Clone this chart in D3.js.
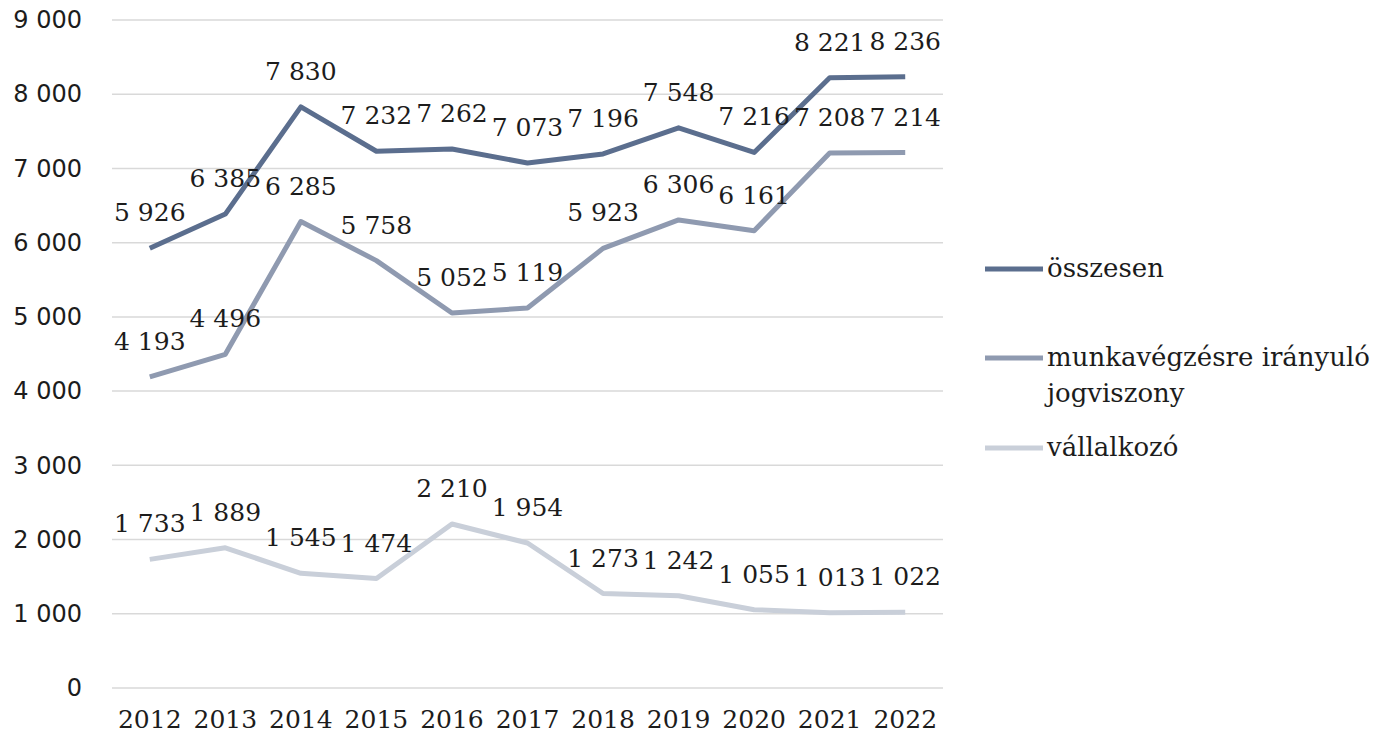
<!DOCTYPE html>
<html><head><meta charset="utf-8">
<script src="https://cdn.jsdelivr.net/npm/d3@7"></script>
<style>body{margin:0;background:#fff}svg{display:block}</style>
</head><body>
<svg id="c" width="1389" height="740"></svg>
<script>
const years = ["2012","2013","2014","2015","2016","2017","2018","2019","2020","2021","2022"];
const osszesen = [5926,6385,7830,7232,7262,7073,7196,7548,7216,8221,8236];
const munka = [4193,4496,6285,5758,5052,5119,5923,6306,6161,7208,7214];
const vallalkozo = [1733,1889,1545,1474,2210,1954,1273,1242,1055,1013,1022];
const yTicks = [0,1000,2000,3000,4000,5000,6000,7000,8000,9000];
const seriesNames = ["összesen", ["munkavégzésre irányuló","jogviszony"], "vállalkozó"];
const colors = ["#5b6e8e","#8f9ab0","#c9cfd9"];

const series = [osszesen, munka, vallalkozo];
const svg = d3.select("#c");
const x = d3.scaleBand().domain(years).range([112, 943]).padding(0);
const y = d3.scaleLinear().domain([0, 9000]).range([688, 20]);
const fmt = v => d3.format(",")(v).replace(/,/g, " ");
const txt = "#1c1c1c";

// gridlines
svg.append("g").selectAll("line").data(yTicks).join("line")
  .attr("x1", x.range()[0]).attr("x2", x.range()[1])
  .attr("y1", d => y(d)).attr("y2", d => y(d))
  .attr("stroke", "#d9d9d9").attr("stroke-width", 1.5);

// y axis labels
const yAxis = d3.axisLeft(y).tickValues(yTicks).tickFormat(fmt).tickSize(0).tickPadding(0);
svg.append("g").attr("transform", "translate(82,0)").call(yAxis)
  .call(g => g.select(".domain").remove())
  .call(g => g.selectAll("text").attr("font-family", "DejaVu Sans").attr("font-size", 24).attr("fill", txt));

// x axis labels
const xAxis = d3.axisBottom(x).tickSize(0).tickPadding(0);
svg.append("g").attr("transform", "translate(0,710)").call(xAxis)
  .call(g => g.select(".domain").remove())
  .call(g => g.selectAll("text").attr("font-family", "DejaVu Serif").attr("font-size", 25).attr("fill", txt));

const line = d3.line().x((d, i) => x(years[i]) + x.bandwidth() / 2).y(d => y(d));
series.forEach((s, k) => {
  svg.append("path").datum(s).attr("d", line).attr("fill", "none")
    .attr("stroke", colors[k]).attr("stroke-width", 5).attr("stroke-linejoin", "round");
});
series.forEach((s, k) => {
  svg.append("g").selectAll("text").data(s).join("text")
    .attr("x", (d, i) => x(years[i]) + x.bandwidth() / 2)
    .attr("y", d => y(d) - 27)
    .attr("text-anchor", "middle")
    .attr("font-family", "DejaVu Serif").attr("font-size", 25).attr("fill", txt)
    .text(fmt);
});

// legend
const legY = [269, 358, 448];
seriesNames.forEach((n, k) => {
  const g = svg.append("g");
  g.append("line").attr("x1", 985).attr("x2", 1043).attr("y1", legY[k]).attr("y2", legY[k])
    .attr("stroke", colors[k]).attr("stroke-width", 5);
  const lines = Array.isArray(n) ? n : [n];
  lines.forEach((t, j) => {
    g.append("text").attr("x", 1047).attr("y", legY[k] + 8 + j * 36)
      .attr("font-family", "DejaVu Serif").attr("font-size", 26).attr("fill", txt).text(t);
  });
});
</script>
</body></html>
